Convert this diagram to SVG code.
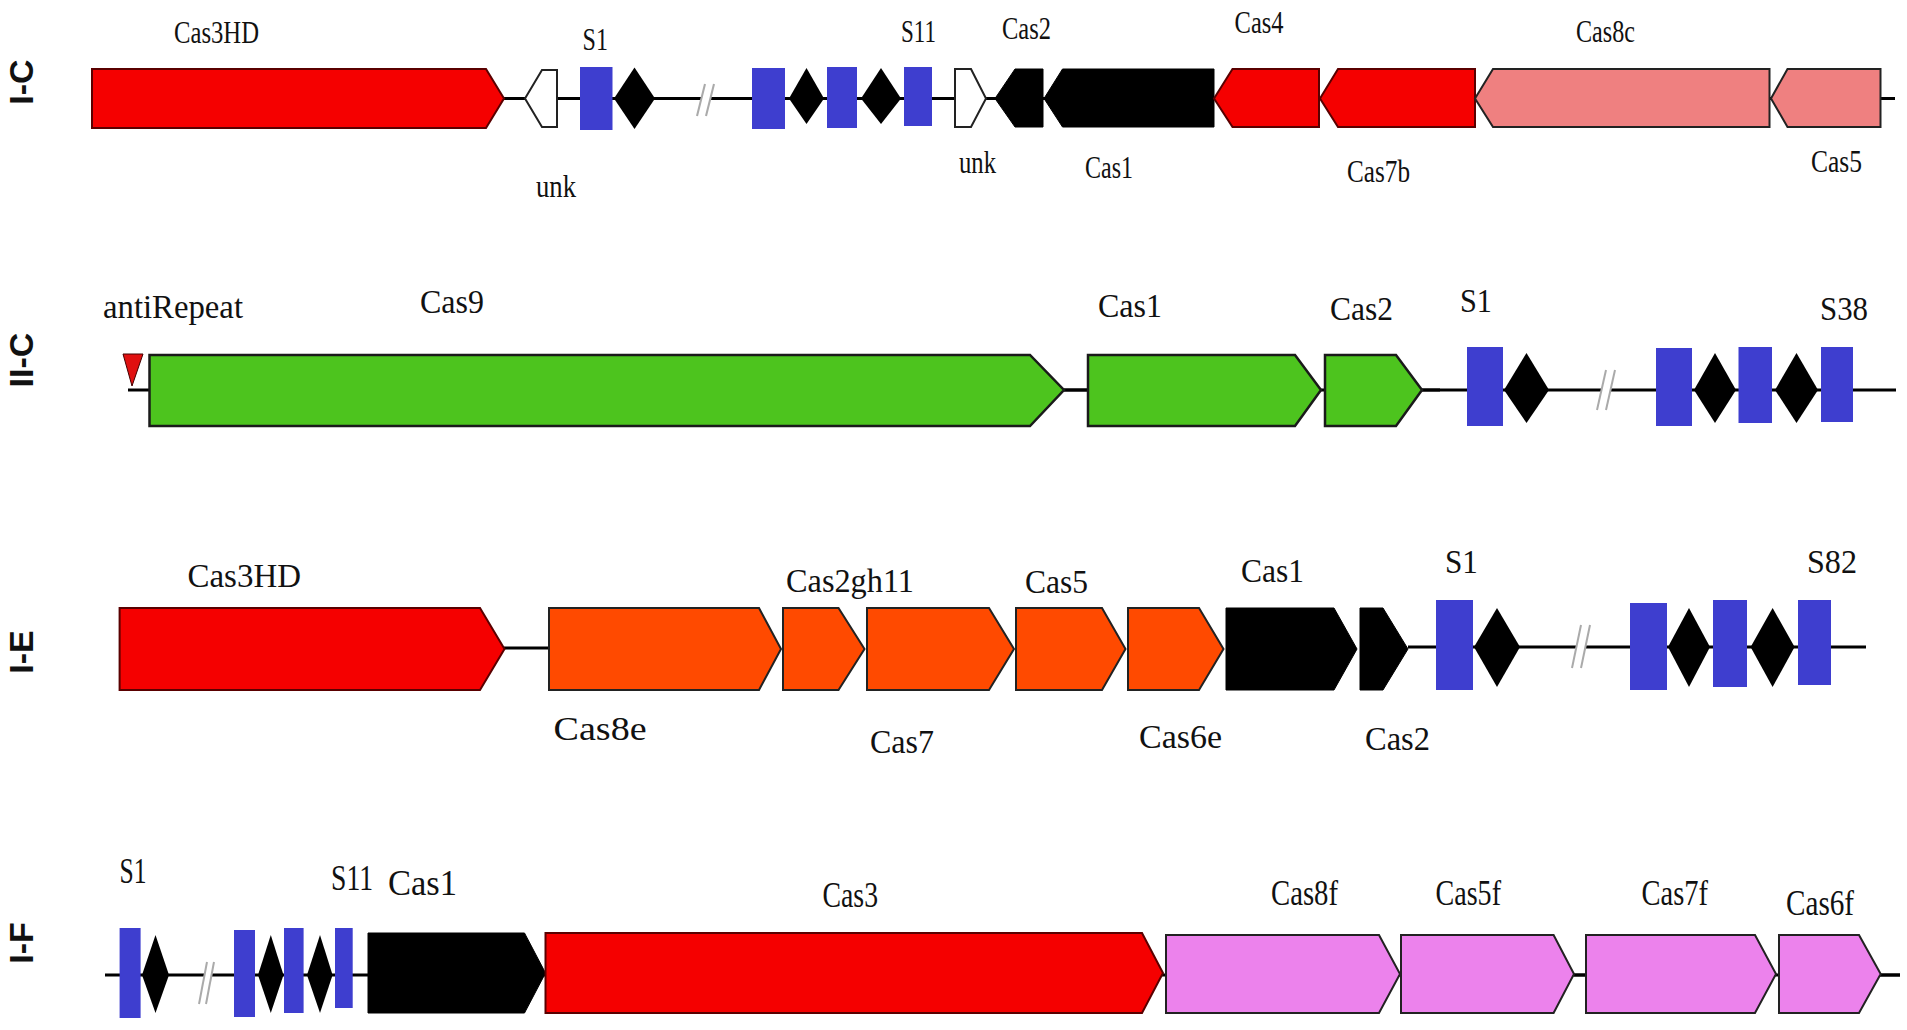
<svg xmlns="http://www.w3.org/2000/svg" width="1907" height="1030" viewBox="0 0 1907 1030">
<style>
.t{font-family:"Liberation Serif","Times New Roman",serif;fill:#111}
.r1{font-size:31px}.r2{font-size:33px}.r3{font-size:33px}.r4{font-size:35px}
.lab{font-family:"Liberation Sans",Arial,sans-serif;font-weight:bold;font-size:34px;fill:#111}
.red{fill:#f50000;stroke:#5a0000;stroke-width:2}
.pink{fill:#ef8080;stroke:#222;stroke-width:2}
.blk{fill:#000;stroke:#000;stroke-width:1}
.wht{fill:#fff;stroke:#222;stroke-width:2}
.grn{fill:#4dc41e;stroke:#1a1a1a;stroke-width:2.5}
.org{fill:#ff4a00;stroke:#222;stroke-width:2}
.vio{fill:#ec82ec;stroke:#222;stroke-width:2}
.sp{fill:#3e3ecf}
.rp{fill:#000}
.bb{stroke:#000;stroke-width:3;fill:none}
.brk{stroke:#aaa;stroke-width:2}
</style>

<g id="labels">
<text class="lab" text-anchor="middle" transform="translate(33,82) rotate(-90)">I-C</text>
<text class="lab" text-anchor="middle" transform="translate(33,360) rotate(-90)">II-C</text>
<text class="lab" text-anchor="middle" transform="translate(33,652) rotate(-90)">I-E</text>
<text class="lab" text-anchor="middle" transform="translate(33,943) rotate(-90)">I-F</text>
</g>

<g id="connectors">
<line class="bb" x1="504" y1="98.5" x2="1895" y2="98.5"/>
<line class="bb" x1="128" y1="390" x2="150" y2="390" stroke-width="5"/>
<line class="bb" x1="1064" y1="390" x2="1896" y2="390"/>
<line class="bb" x1="1064" y1="390" x2="1088" y2="390" stroke-width="5"/>
<line class="bb" x1="1422" y1="390" x2="1440" y2="390" stroke-width="5"/>
<line class="bb" x1="504" y1="648" x2="549" y2="648" stroke-width="5"/>
<line class="bb" x1="1408" y1="647" x2="1866" y2="647"/>
<line class="bb" x1="105" y1="975" x2="1900" y2="975"/>
<line class="bb" x1="1574" y1="975" x2="1586" y2="975" stroke-width="5"/>
<line class="bb" x1="1880" y1="975" x2="1900" y2="975" stroke-width="5"/>
<!-- breaks -->
<polygon points="705,84 714,84 706,116 697,116" fill="#fff"/>
<line class="brk" x1="705" y1="84" x2="697" y2="116"/><line class="brk" x1="714" y1="84" x2="706" y2="116"/>
<polygon points="1606,370 1615,370 1606,410 1597,410" fill="#fff"/>
<line class="brk" x1="1606" y1="370" x2="1597" y2="410"/><line class="brk" x1="1615" y1="370" x2="1606" y2="410"/>
<polygon points="1581,625 1590,625 1581,668 1572,668" fill="#fff"/>
<line class="brk" x1="1581" y1="625" x2="1572" y2="668"/><line class="brk" x1="1590" y1="625" x2="1581" y2="668"/>
<polygon points="207,962 214,962 206,1004 199,1004" fill="#fff"/>
<line class="brk" x1="207" y1="962" x2="199" y2="1004"/><line class="brk" x1="214" y1="962" x2="206" y2="1004"/>
</g>

<!-- Row I-C -->
<g id="IC-Cas3HD"><polygon class="red" points="92,69 486,69 504,98.5 486,128 92,128"/><text class="t r1" x="174" y="43" textLength="85" lengthAdjust="spacingAndGlyphs">Cas3HD</text></g>
<g id="IC-unk1"><polygon class="wht" points="525,98.5 542,70 557,70 557,127 542,127"/><text class="t r1" x="536" y="197" textLength="40" lengthAdjust="spacingAndGlyphs">unk</text></g>
<g id="IC-array">
<rect class="sp" x="580" y="67" width="32.5" height="63"/>
<polygon class="rp" points="634.5,67.5 655,98.5 634.5,129 614,98.5"/>
<rect class="sp" x="752" y="68" width="33" height="61"/>
<polygon class="rp" points="806.5,68 824,98.5 806.5,124 789,98.5"/>
<rect class="sp" x="827" y="67" width="30" height="61"/>
<polygon class="rp" points="881,68 901,98.5 881,124 861,98.5"/>
<rect class="sp" x="904" y="67" width="28" height="59"/>
<text class="t r1" x="582.6" y="50" textLength="25.4" lengthAdjust="spacingAndGlyphs">S1</text>
<text class="t r1" x="901" y="42" textLength="35" lengthAdjust="spacingAndGlyphs">S11</text>
</g>
<g id="IC-unk2"><polygon class="wht" points="955,69 971,69 986,98.5 971,127 955,127"/><text class="t r1" x="959" y="173" textLength="37" lengthAdjust="spacingAndGlyphs">unk</text></g>
<g id="IC-Cas2"><polygon class="blk" points="995,98.5 1015,69 1043,69 1043,127 1015,127"/><text class="t r1" x="1002" y="39" textLength="49" lengthAdjust="spacingAndGlyphs">Cas2</text></g>
<g id="IC-Cas1"><polygon class="blk" points="1044,98.5 1062.5,69 1214,69 1214,127 1062.5,127"/><text class="t r1" x="1085" y="178" textLength="48" lengthAdjust="spacingAndGlyphs">Cas1</text></g>
<g id="IC-Cas4"><polygon class="red" points="1214,98.5 1232.5,69 1319,69 1319,127 1232.5,127"/><text class="t r1" x="1234.6" y="33" textLength="49" lengthAdjust="spacingAndGlyphs">Cas4</text></g>
<g id="IC-Cas7b"><polygon class="red" points="1320,98.5 1338,69 1475,69 1475,127 1338,127"/><text class="t r1" x="1347" y="182" textLength="63" lengthAdjust="spacingAndGlyphs">Cas7b</text></g>
<g id="IC-Cas8c"><polygon class="pink" points="1475,98.5 1493,69 1769.5,69 1769.5,127 1493,127"/><text class="t r1" x="1576" y="42" textLength="59" lengthAdjust="spacingAndGlyphs">Cas8c</text></g>
<g id="IC-Cas5"><polygon class="pink" points="1771,98.5 1787.5,69 1880.5,69 1880.5,127 1787.5,127"/><text class="t r1" x="1811" y="172" textLength="51" lengthAdjust="spacingAndGlyphs">Cas5</text></g>

<!-- Row II-C -->
<g id="IIC-antiRepeat"><polygon points="123,354 143,354 132,386" fill="#e01010" stroke="#400" stroke-width="1"/><text class="t r2" x="103" y="318" textLength="140" lengthAdjust="spacingAndGlyphs">antiRepeat</text></g>
<g id="IIC-Cas9"><polygon class="grn" points="149.5,355 1030,355 1064,390 1030,426 149.5,426"/><text class="t r2" x="420" y="313" textLength="64" lengthAdjust="spacingAndGlyphs">Cas9</text></g>
<g id="IIC-Cas1"><polygon class="grn" points="1088,355 1295,355 1321,390 1295,426 1088,426"/><text class="t r2" x="1098" y="317" textLength="64" lengthAdjust="spacingAndGlyphs">Cas1</text></g>
<g id="IIC-Cas2"><polygon class="grn" points="1325,355 1396,355 1422,390 1396,426 1325,426"/><text class="t r2" x="1330" y="320" textLength="63" lengthAdjust="spacingAndGlyphs">Cas2</text></g>
<g id="IIC-array">
<rect class="sp" x="1467" y="347" width="36" height="79"/>
<polygon class="rp" points="1526.5,353 1549,390 1526.5,423 1504,390"/>
<rect class="sp" x="1656" y="348" width="36" height="78"/>
<polygon class="rp" points="1715,353 1736,390 1715,423 1694,390"/>
<rect class="sp" x="1738.5" y="347" width="33.5" height="76"/>
<polygon class="rp" points="1796.5,353 1818,390 1796.5,423 1775,390"/>
<rect class="sp" x="1821" y="347" width="32" height="75"/>
<text class="t r2" x="1460" y="312" textLength="32" lengthAdjust="spacingAndGlyphs">S1</text>
<text class="t r2" x="1820" y="320" textLength="48" lengthAdjust="spacingAndGlyphs">S38</text>
</g>

<!-- Row I-E -->
<g id="IE-Cas3HD"><polygon class="red" points="119.6,608 480,608 504.5,649 480,690 119.6,690"/><text class="t r3" x="187.5" y="587" textLength="113.5" lengthAdjust="spacingAndGlyphs">Cas3HD</text></g>
<g id="IE-Cas8e"><polygon class="org" points="549,608 759,608 781,649 759,690 549,690"/><text class="t r3" x="553.6" y="740" textLength="93" lengthAdjust="spacingAndGlyphs">Cas8e</text></g>
<g id="IE-Cas2gh11"><polygon class="org" points="783,608 838.5,608 864.5,649 838.5,690 783,690"/><text class="t r3" x="786" y="592" textLength="128" lengthAdjust="spacingAndGlyphs">Cas2gh11</text></g>
<g id="IE-Cas7"><polygon class="org" points="867,608 989,608 1014,649 989,690 867,690"/><text class="t r3" x="870" y="753" textLength="64" lengthAdjust="spacingAndGlyphs">Cas7</text></g>
<g id="IE-Cas5"><polygon class="org" points="1016,608 1102,608 1125.5,649 1102,690 1016,690"/><text class="t r3" x="1025" y="593" textLength="63" lengthAdjust="spacingAndGlyphs">Cas5</text></g>
<g id="IE-Cas6e"><polygon class="org" points="1128,608 1199,608 1223.5,649 1199,690 1128,690"/><text class="t r3" x="1139" y="748" textLength="83" lengthAdjust="spacingAndGlyphs">Cas6e</text></g>
<g id="IE-Cas1"><polygon class="blk" points="1226,608 1334,608 1357,649 1334,690 1226,690"/><text class="t r3" x="1241" y="582" textLength="63" lengthAdjust="spacingAndGlyphs">Cas1</text></g>
<g id="IE-Cas2"><polygon class="blk" points="1360,608 1383,608 1408,649 1383,690 1360,690"/><text class="t r3" x="1365" y="750" textLength="65" lengthAdjust="spacingAndGlyphs">Cas2</text></g>
<g id="IE-array">
<rect class="sp" x="1436" y="600" width="37" height="90"/>
<polygon class="rp" points="1497,608 1520,647 1497,687 1474,647"/>
<rect class="sp" x="1630" y="603" width="37" height="87"/>
<polygon class="rp" points="1689,608 1710,647 1689,687 1668,647"/>
<rect class="sp" x="1713" y="600" width="34" height="87"/>
<polygon class="rp" points="1772.6,608 1794.6,647 1772.6,687 1750.6,647"/>
<rect class="sp" x="1798" y="600" width="33" height="85"/>
<text class="t r3" x="1445" y="573" textLength="33" lengthAdjust="spacingAndGlyphs">S1</text>
<text class="t r3" x="1807" y="573" textLength="50" lengthAdjust="spacingAndGlyphs">S82</text>
</g>

<!-- Row I-F -->
<g id="IF-array">
<rect class="sp" x="119.6" y="928" width="21" height="90"/>
<polygon class="rp" points="155.5,935 169,975 155.5,1013 142,975"/>
<rect class="sp" x="234" y="930" width="21" height="87"/>
<polygon class="rp" points="270.8,935 283.5,975 270.8,1013 258,975"/>
<rect class="sp" x="284" y="928" width="19.6" height="85"/>
<polygon class="rp" points="320,935 332.6,975 320,1013 307,975"/>
<rect class="sp" x="335" y="928" width="17.7" height="80"/>
<text class="t r4" x="119.6" y="883" textLength="27" lengthAdjust="spacingAndGlyphs">S1</text>
<text class="t r4" x="331" y="890" textLength="42" lengthAdjust="spacingAndGlyphs">S11</text>
</g>
<g id="IF-Cas1"><polygon class="blk" points="368,933 524.5,933 545.5,973 524.5,1013 368,1013"/><text class="t r4" x="388" y="895" textLength="69" lengthAdjust="spacingAndGlyphs">Cas1</text></g>
<g id="IF-Cas3"><polygon class="red" points="545.5,933 1142,933 1163,973 1142,1013 545.5,1013"/><text class="t r4" x="822.5" y="907" textLength="55.5" lengthAdjust="spacingAndGlyphs">Cas3</text></g>
<g id="IF-Cas8f"><polygon class="vio" points="1166,935 1379,935 1400,974 1379,1013 1166,1013"/><text class="t r4" x="1271" y="905" textLength="67" lengthAdjust="spacingAndGlyphs">Cas8f</text></g>
<g id="IF-Cas5f"><polygon class="vio" points="1401,935 1553.6,935 1574,974 1553.6,1013 1401,1013"/><text class="t r4" x="1435.5" y="905" textLength="65.5" lengthAdjust="spacingAndGlyphs">Cas5f</text></g>
<g id="IF-Cas7f"><polygon class="vio" points="1586,935 1755,935 1776,974 1755,1013 1586,1013"/><text class="t r4" x="1641.5" y="905" textLength="66.5" lengthAdjust="spacingAndGlyphs">Cas7f</text></g>
<g id="IF-Cas6f"><polygon class="vio" points="1779,935 1859,935 1880.7,974 1859,1013 1779,1013"/><text class="t r4" x="1786" y="915" textLength="68" lengthAdjust="spacingAndGlyphs">Cas6f</text></g>
</svg>
